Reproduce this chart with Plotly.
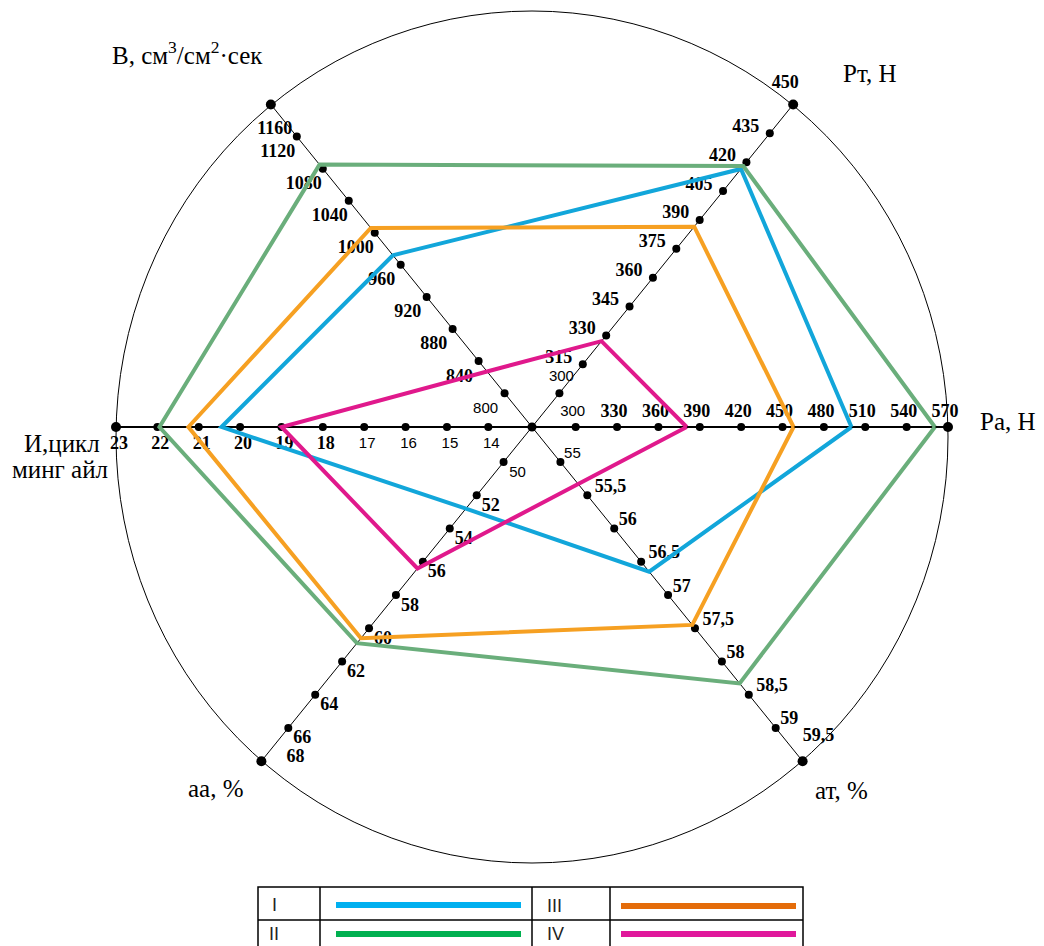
import math
import plotly.graph_objects as go

# ---------------- data ----------------
axis_titles = ["Ра, Н", "Рт, Н", "В, см<sup>3</sup>/см<sup>2</sup>·сек",
               "И,цикл", "аа, %", "ат, %"]
axis_title_line2 = "минг айл"
ra_ticks = [300, 330, 360, 390, 420, 450, 480, 510, 540, 570]
rt_ticks = [300, 315, 330, 345, 360, 375, 390, 405, 420, 435, 450]
b_ticks = [800, 840, 880, 920, 960, 1000, 1040, 1080, 1120, 1160]
i_ticks = [14, 15, 16, 17, 18, 19, 20, 21, 22, 23]
aa_ticks = [50, 52, 54, 56, 58, 60, 62, 64, 66, 68]
at_ticks = [55, 55.5, 56, 56.5, 57, 57.5, 58, 58.5, 59, 59.5]
at_tick_labels = ["55", "55,5", "56", "56,5", "57", "57,5", "58", "58,5", "59", "59,5"]

series_names = ["I", "II", "III", "IV"]
# value order: Ра, Рт, В, И, аа, ат
series_I = [500, 416.5, 972, 20.45, 52.8, 56.65]
series_II = [560.5, 418, 1085, 21.95, 60.9, 58.33]
series_III = [458, 386.5, 1006, 21.25, 60.6, 57.45]
series_IV = [380.5, 327, 827, 19.0, 56.4, 55.33]

# ---------------- geometry / style ----------------
tick_sets = [ra_ticks, rt_ticks, b_ticks, i_ticks, aa_ticks, at_ticks]
label_sets = [[str(t) for t in ra_ticks], [str(t) for t in rt_ticks],
              [str(t) for t in b_ticks], [str(t) for t in i_ticks],
              [str(t) for t in aa_ticks], at_tick_labels]
CX, CY = 532, 427
ANG = [0, 51, 129, 180, 231, 309]
LEN = [416, 415, 415, 416, 430, 430]
F0 = 0.105

line_colors = ["#12a6da", "#6aae7b", "#f6a022", "#e0198c"]
legend_colors = ["#00b0f0", "#00b050", "#e46c0a", "#e0189b"]


def to_xy(k, v):
    t = tick_sets[k]
    r = LEN[k] * (F0 + (1 - F0) * (v - t[0]) / (t[-1] - t[0]))
    a = math.radians(ANG[k])
    return CX + r * math.cos(a), CY - r * math.sin(a)


fig = go.Figure()

# ellipse outline
fig.add_shape(type="circle", x0=116, x1=948, y0=11, y1=863,
              line=dict(color="black", width=1), layer="below")

# axis lines
for k in range(6):
    ex, ey = to_xy(k, tick_sets[k][-1])
    fig.add_trace(go.Scatter(x=[CX, ex], y=[CY, ey], mode="lines",
                             line=dict(color="black", width=2 if k in (0, 3) else 1),
                             hoverinfo="skip", showlegend=False))

# tick dots
dx_, dy_, ds_ = [CX], [CY], [9]
for k in range(6):
    n = len(tick_sets[k])
    for i, t in enumerate(tick_sets[k]):
        x, y = to_xy(k, t)
        dx_.append(x)
        dy_.append(y)
        ds_.append(10 if i == n - 1 else 8)
fig.add_trace(go.Scatter(x=dx_, y=dy_, mode="markers",
                         marker=dict(color="black", size=ds_, line=dict(width=0), opacity=1),
                         hoverinfo="skip", showlegend=False))

# tick labels
offsets = [(-3, -15), (-24, -6), (-19, 16), (3, 17), (14, 11), (20, -8)]
bold_x, bold_y, bold_t = [], [], []
lt_x, lt_y, lt_t = [], [], []
for k in range(6):
    n = len(tick_sets[k])
    for i, (t, lab) in enumerate(zip(tick_sets[k], label_sets[k])):
        x, y = to_xy(k, t)
        ox, oy = offsets[k]
        if k == 1 and i == n - 1:
            ox, oy = -8, -21
        if k == 1 and i == 0:
            ox, oy = 2, -16
        if k == 2 and i == n - 1:
            ox, oy = 4, 25
        if k == 4 and i == n - 1:
            ox, oy = 34, -4
        if k == 5:
            ox = 4 + 4.8 * len(lab)
            if i == 0:
                ox = 12
            if i == n - 1:
                ox, oy = 16, -25
        light = (i == 0) or (k == 3 and i <= 3)
        if light:
            lt_x.append(x + ox); lt_y.append(y + oy); lt_t.append(lab)
        else:
            bold_x.append(x + ox); bold_y.append(y + oy); bold_t.append("<b>" + lab + "</b>")
fig.add_trace(go.Scatter(x=bold_x, y=bold_y, text=bold_t, mode="text",
                         textposition="middle center",
                         textfont=dict(family="Liberation Serif", size=18, color="black"),
                         hoverinfo="skip", showlegend=False))
fig.add_trace(go.Scatter(x=lt_x, y=lt_y, text=lt_t, mode="text",
                         textposition="middle center",
                         textfont=dict(family="Liberation Sans", size=15, color="black"),
                         hoverinfo="skip", showlegend=False))

# series polygons
for name, vals, col in zip(series_names, [series_I, series_II, series_III, series_IV], line_colors):
    xs, ys = [], []
    for k in list(range(6)) + [0]:
        x, y = to_xy(k, vals[k])
        xs.append(x); ys.append(y)
    fig.add_trace(go.Scatter(x=xs, y=ys, mode="lines", name=name,
                             line=dict(color=col, width=4), showlegend=False))

# axis titles
title_font = dict(family="Liberation Serif", size=25, color="black")
title_pos = [(1008, 421, "center"), (870, 73, "center"), (110, 53, "left"),
             (62, 443, "center"), (216, 788, "center"), (841, 790, "center")]
for (x, y, anc), txt in zip(title_pos, axis_titles):
    fig.add_annotation(x=x, y=y, text=txt, showarrow=False, xanchor=anc, yanchor="middle",
                       font=title_font)
fig.add_annotation(x=60, y=469, text=axis_title_line2, showarrow=False,
                   xanchor="center", yanchor="middle", font=title_font)

# legend table
tbl = dict(color="black", width=1.5)
fig.add_shape(type="rect", x0=258, x1=803, y0=887, y1=975, line=tbl)
fig.add_shape(type="line", x0=258, x1=803, y0=920, y1=920, line=tbl)
for xv in (320, 532, 610):
    fig.add_shape(type="line", x0=xv, x1=xv, y0=887, y1=975, line=tbl)
leg_cells = [(274, 336, 521, 905), (274, 336, 521, 934), (554, 621, 796, 906), (555, 621, 796, 934)]
for name, col, (tx, lx0, lx1, ly) in zip(series_names, legend_colors, leg_cells):
    fig.add_shape(type="line", x0=lx0, x1=lx1, y0=ly, y1=ly, line=dict(color=col, width=6))
    fig.add_annotation(x=tx, y=ly, text=name, showarrow=False, xanchor="center", yanchor="middle",
                       font=dict(family="Liberation Sans", size=18, color="#222222"))

fig.update_layout(width=1044, height=946, margin=dict(l=0, r=0, t=0, b=0),
                  paper_bgcolor="white", plot_bgcolor="white", showlegend=False,
                  xaxis=dict(range=[0, 1044], visible=False, fixedrange=True),
                  yaxis=dict(range=[946, 0], visible=False, fixedrange=True))

fig.write_html("out.html", config={"displayModeBar": False})
with open("out.html", "r", encoding="utf-8") as f:
    html = f.read()
html = html.replace("<head>", "<head><style>html,body{margin:0;padding:0;overflow:hidden;}</style>", 1)
with open("out.html", "w", encoding="utf-8") as f:
    f.write(html)
